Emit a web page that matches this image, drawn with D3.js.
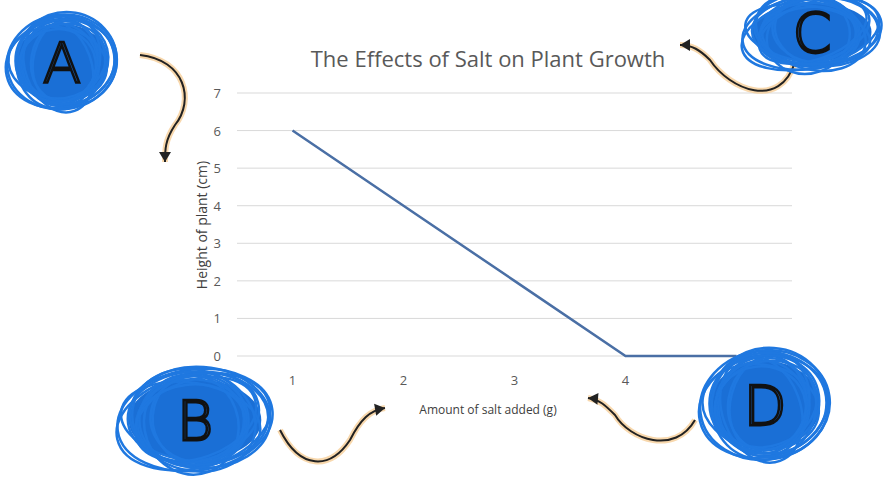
<!DOCTYPE html>
<html><head><meta charset="utf-8">
<script src="https://cdn.jsdelivr.net/npm/d3@7"></script>
<style>body{margin:0;background:#fff}</style></head>
<body><svg id="c" width="886" height="486"></svg>
<script>
const categories = [1, 2, 3, 4, 5];
const xTickLabels = ["1", "2", "3", "4", ""];
const heights = [6, 4, 2, 0, 0];
const yTicks = [0, 1, 2, 3, 4, 5, 6, 7];
const title = "The Effects of Salt on Plant Growth";
const xLabel = "Amount of salt added (g)";
const yLabel = "Height of plant (cm)";
const annotations = [
  {label:"A", cx:62, cy:62, rx:55, ry:45},
  {label:"B", cx:195, cy:420, rx:78, ry:48},
  {label:"C", cx:812, cy:32, rx:70, ry:35},
  {label:"D", cx:765, cy:405, rx:65, ry:52}
];

const svg = d3.select("#c");
const font = "'Open Sans', Calibri, sans-serif";
const x = d3.scaleBand().domain(categories).range([237, 792]);
const y = d3.scaleLinear().domain([0, 7]).range([356, 93]);

svg.append("g").selectAll("line").data(yTicks).join("line")
  .attr("x1", 237).attr("x2", 792).attr("y1", d => y(d)).attr("y2", d => y(d))
  .attr("stroke", "#d9d9d9").attr("stroke-width", 1);

svg.append("g").selectAll("text").data(yTicks).join("text")
  .attr("x", 221).attr("y", d => y(d) + 5).attr("text-anchor", "end")
  .attr("font-family", font).attr("font-size", 13).attr("fill", "#595959").text(d => d);

svg.append("g").selectAll("text").data(categories).join("text")
  .attr("x", d => x(d) + x.bandwidth() / 2).attr("y", 385).attr("text-anchor", "middle")
  .attr("font-family", font).attr("font-size", 13).attr("fill", "#595959")
  .text((d, i) => xTickLabels[i]);

svg.append("path").datum(heights)
  .attr("d", d3.line().x((d, i) => x(categories[i]) + x.bandwidth() / 2).y(d => y(d)))
  .attr("fill", "none").attr("stroke", "#4a6fa5").attr("stroke-width", 2.5);

svg.append("text").attr("x", 488).attr("y", 67).attr("text-anchor", "middle")
  .attr("font-family", font).attr("font-size", 22).attr("fill", "#595959").text(title);
svg.append("text").attr("x", 488).attr("y", 414).attr("text-anchor", "middle")
  .attr("font-family", font).attr("font-size", 12).attr("fill", "#404040").text(xLabel);
svg.append("text").attr("transform", "translate(207,225) rotate(-90)").attr("text-anchor", "middle")
  .attr("font-family", font).attr("font-size", 14).attr("fill", "#404040").text(yLabel);

// arrows
const arrows = [
  "M140,55 C185,60 195,100 175,125 C165,140 165,150 165,162",
  "M280,430 C300,470 330,470 350,440 C360,420 370,410 385,408",
  "M795,62 C780,110 730,90 710,60 C700,50 692,45 680,45",
  "M695,420 C675,455 630,440 615,415 C605,405 600,400 588,398"
];
svg.append("g").selectAll("path").data(arrows).join("path")
  .attr("d", d => d).attr("fill", "none").attr("stroke", "#f5c78a").attr("stroke-width", 6).attr("opacity", 0.7);
svg.append("g").selectAll("path").data(arrows).join("path")
  .attr("d", d => d).attr("fill", "none").attr("stroke", "#222").attr("stroke-width", 2);
const heads = [[165,162,90],[385,408,-10],[680,45,180],[588,398,185]];
svg.append("g").selectAll("path").data(heads).join("path")
  .attr("transform", d => `translate(${d[0]},${d[1]}) rotate(${d[2]})`)
  .attr("d", "M0,0 L-10,-6 L-10,6 Z").attr("fill", "#222");

// scribbled blobs
const g = svg.append("g");
annotations.forEach((a, k) => {
  g.append("ellipse").attr("cx", a.cx).attr("cy", a.cy).attr("rx", a.rx * 0.85).attr("ry", a.ry * 0.85)
    .attr("fill", "#1a6fd6");
  for (let j = 0; j < 14; j++) {
    const s = 0.6 + (j % 5) * 0.1, o = (j * 37) % 11 - 5;
    g.append("ellipse").attr("cx", a.cx + o).attr("cy", a.cy - o * 0.6)
      .attr("rx", a.rx * s).attr("ry", a.ry * (1.05 - (j % 4) * 0.08))
      .attr("transform", `rotate(${(j * 23) % 40 - 20},${a.cx},${a.cy})`)
      .attr("fill", "none").attr("stroke", "#1f78e0").attr("stroke-width", 2.5);
  }
  g.append("text").attr("x", a.cx).attr("y", a.cy + 20).attr("text-anchor", "middle")
    .attr("font-family", "'DejaVu Sans', sans-serif").attr("font-size", 56).attr("font-weight", 300)
    .attr("fill", "none").attr("stroke", "#111").attr("stroke-width", 2.5).text(a.label);
});
</script></body></html>
